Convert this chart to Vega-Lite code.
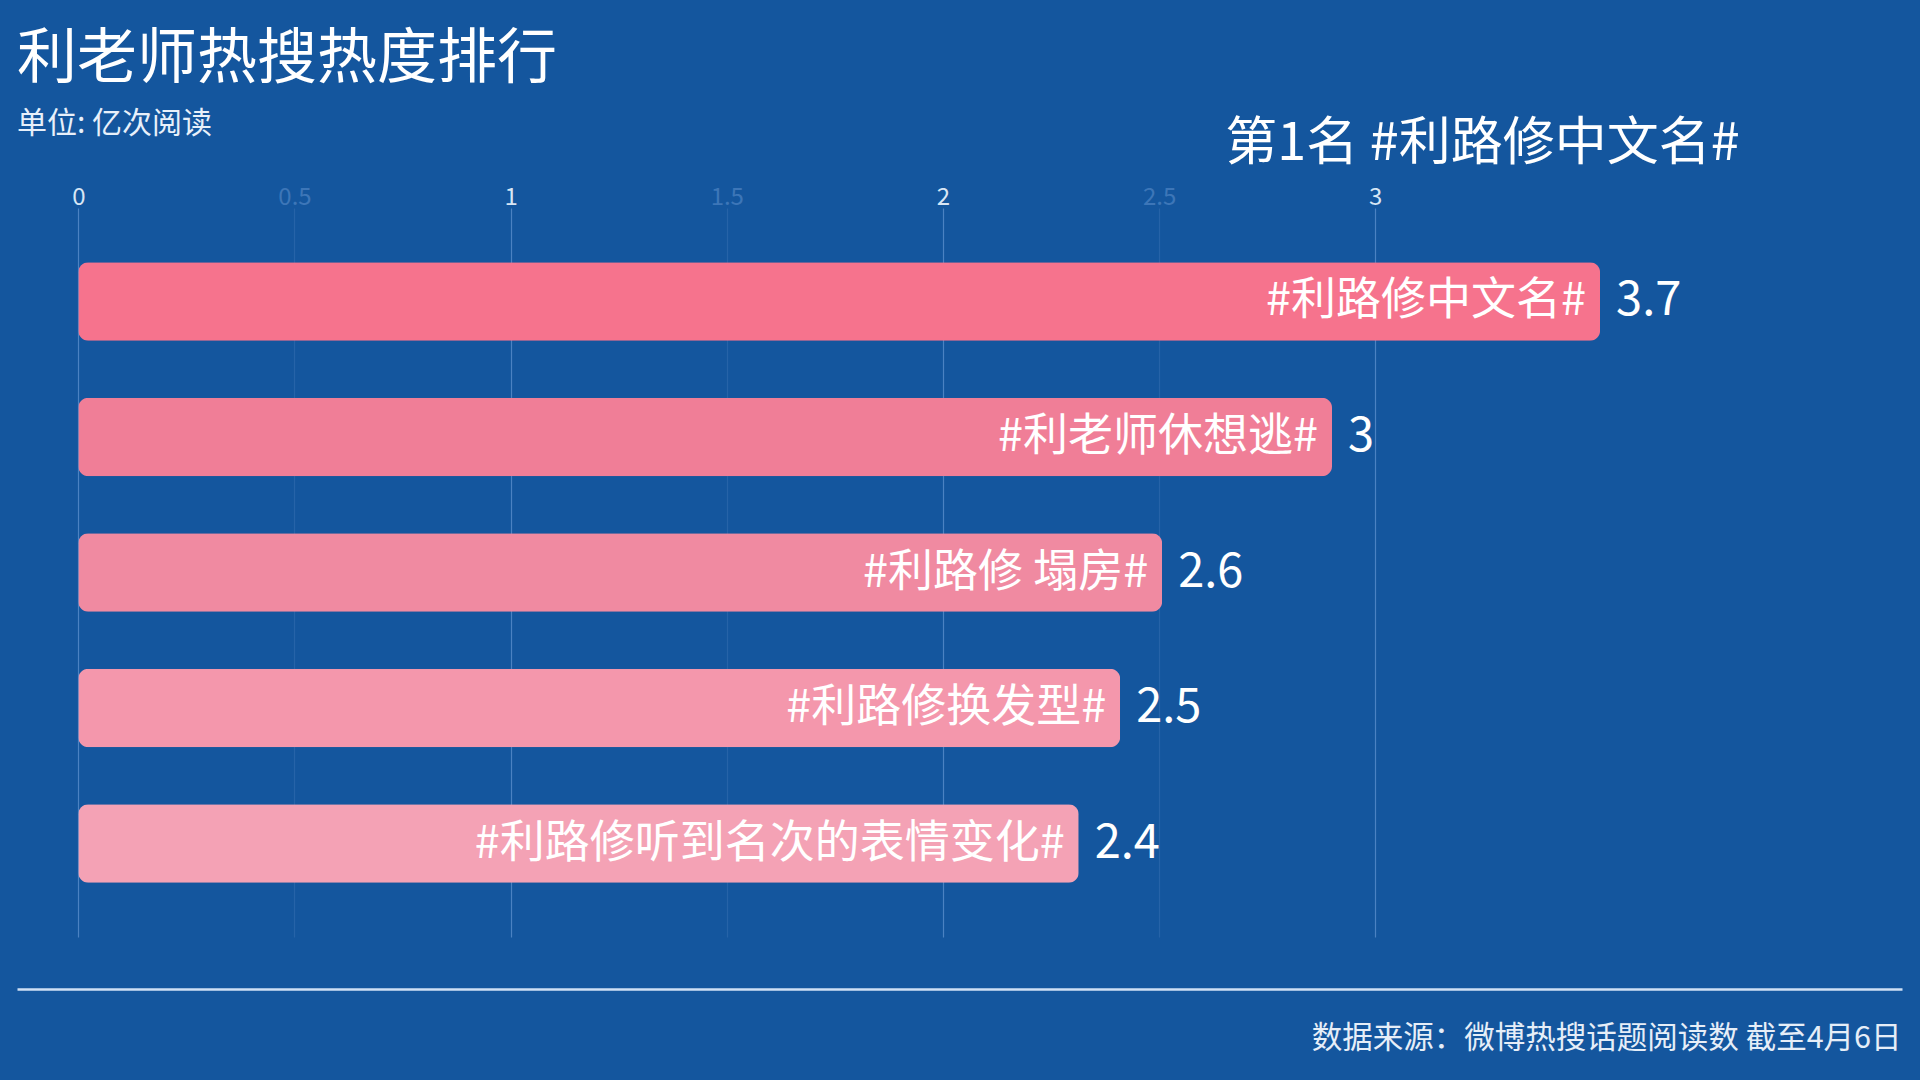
{
  "$schema": "https://vega.github.io/schema/vega-lite/v6.json",
  "width": 1885,
  "height": 729,
  "autosize": {"type": "none"},
  "padding": {"left": 17, "right": 18, "top": 208, "bottom": 143},
  "background": "#14569e",
  "config": {"view": {"stroke": null}, "font": "Noto Sans CJK SC"},
  "title": {
    "text": "利老师热搜热度排行",
    "subtitle": "单位: 亿次阅读",
    "anchor": "start",
    "frame": "group",
    "fontSize": 60,
    "fontWeight": "normal",
    "color": "#ffffff",
    "subtitleFontSize": 30,
    "subtitleColor": "#e8f0fa",
    "subtitleFontWeight": "normal",
    "subtitlePadding": 18,
    "offset": -23
  },
  "data": {
    "values": [
      {"rank": 1, "topic": "#利路修中文名#", "value": 3.52, "label": "3.7"},
      {"rank": 2, "topic": "#利老师休想逃#", "value": 2.90, "label": "3"},
      {"rank": 3, "topic": "#利路修 塌房#", "value": 2.507, "label": "2.6"},
      {"rank": 4, "topic": "#利路修换发型#", "value": 2.41, "label": "2.5"},
      {"rank": 5, "topic": "#利路修听到名次的表情变化#", "value": 2.314, "label": "2.4"}
    ]
  },
  "encoding": {
    "y": {
      "field": "topic",
      "type": "nominal",
      "sort": {"field": "rank", "order": "ascending"},
      "axis": null,
      "scale": {"paddingInner": 0.42, "paddingOuter": 0.4}
    }
  },
  "layer": [
    {
      "mark": {"type": "bar", "cornerRadius": 10},
      "encoding": {
        "x": {
          "field": "value",
          "type": "quantitative",
          "scale": {"domain": [-0.1418, 4.2184], "nice": false, "zero": false},
          "axis": {
            "orient": "top",
            "values": [0, 0.5, 1, 1.5, 2, 2.5, 3],
            "format": "~g",
            "domain": false,
            "ticks": false,
            "grid": true,
            "gridWidth": 1.2,
            "gridColor": {"condition": {"test": "datum.value % 1 !== 0", "value": "#2663a8"}, "value": "#4b82c2"},
            "labelPadding": -1,
            "labelFontSize": 24,
            "labelColor": {"condition": {"test": "datum.value % 1 !== 0", "value": "#3d76b8"}, "value": "#d8e6f5"},
            "title": "第1名 #利路修中文名#",
            "titleFontSize": 52,
            "titleFontWeight": "normal",
            "titleColor": "#ffffff",
            "titleAlign": "right",
            "titleBaseline": "middle",
            "titleX": 1722,
            "titleY": -65
          }
        },
        "color": {
          "field": "rank",
          "type": "ordinal",
          "scale": {"range": ["#f6738d", "#f07e97", "#f08aa1", "#f497ac", "#f4a2b5"]},
          "legend": null
        }
      }
    },
    {
      "mark": {"type": "text", "align": "right", "baseline": "middle", "dx": -14, "fontSize": 45, "color": "#ffffff"},
      "encoding": {
        "x": {"field": "value", "type": "quantitative", "axis": null},
        "text": {"field": "topic"}
      }
    },
    {
      "mark": {"type": "text", "align": "left", "baseline": "middle", "dx": 16, "fontSize": 47, "color": "#ffffff"},
      "encoding": {
        "x": {
          "field": "value",
          "type": "quantitative",
          "axis": {
            "orient": "bottom",
            "offset": 52,
            "domain": true,
            "domainColor": "#cfe0f5",
            "domainWidth": 2.5,
            "labels": false,
            "ticks": false,
            "grid": false,
            "title": "数据来源：微博热搜话题阅读数 截至4月6日",
            "titleFontSize": 30.5,
            "titleFontWeight": "normal",
            "titleColor": "#e6eef8",
            "titleAlign": "right",
            "titleBaseline": "middle",
            "titleX": 1884,
            "titleY": 49
          }
        },
        "text": {"field": "label"}
      }
    }
  ],
  "resolve": {"axis": {"x": "independent"}}
}
